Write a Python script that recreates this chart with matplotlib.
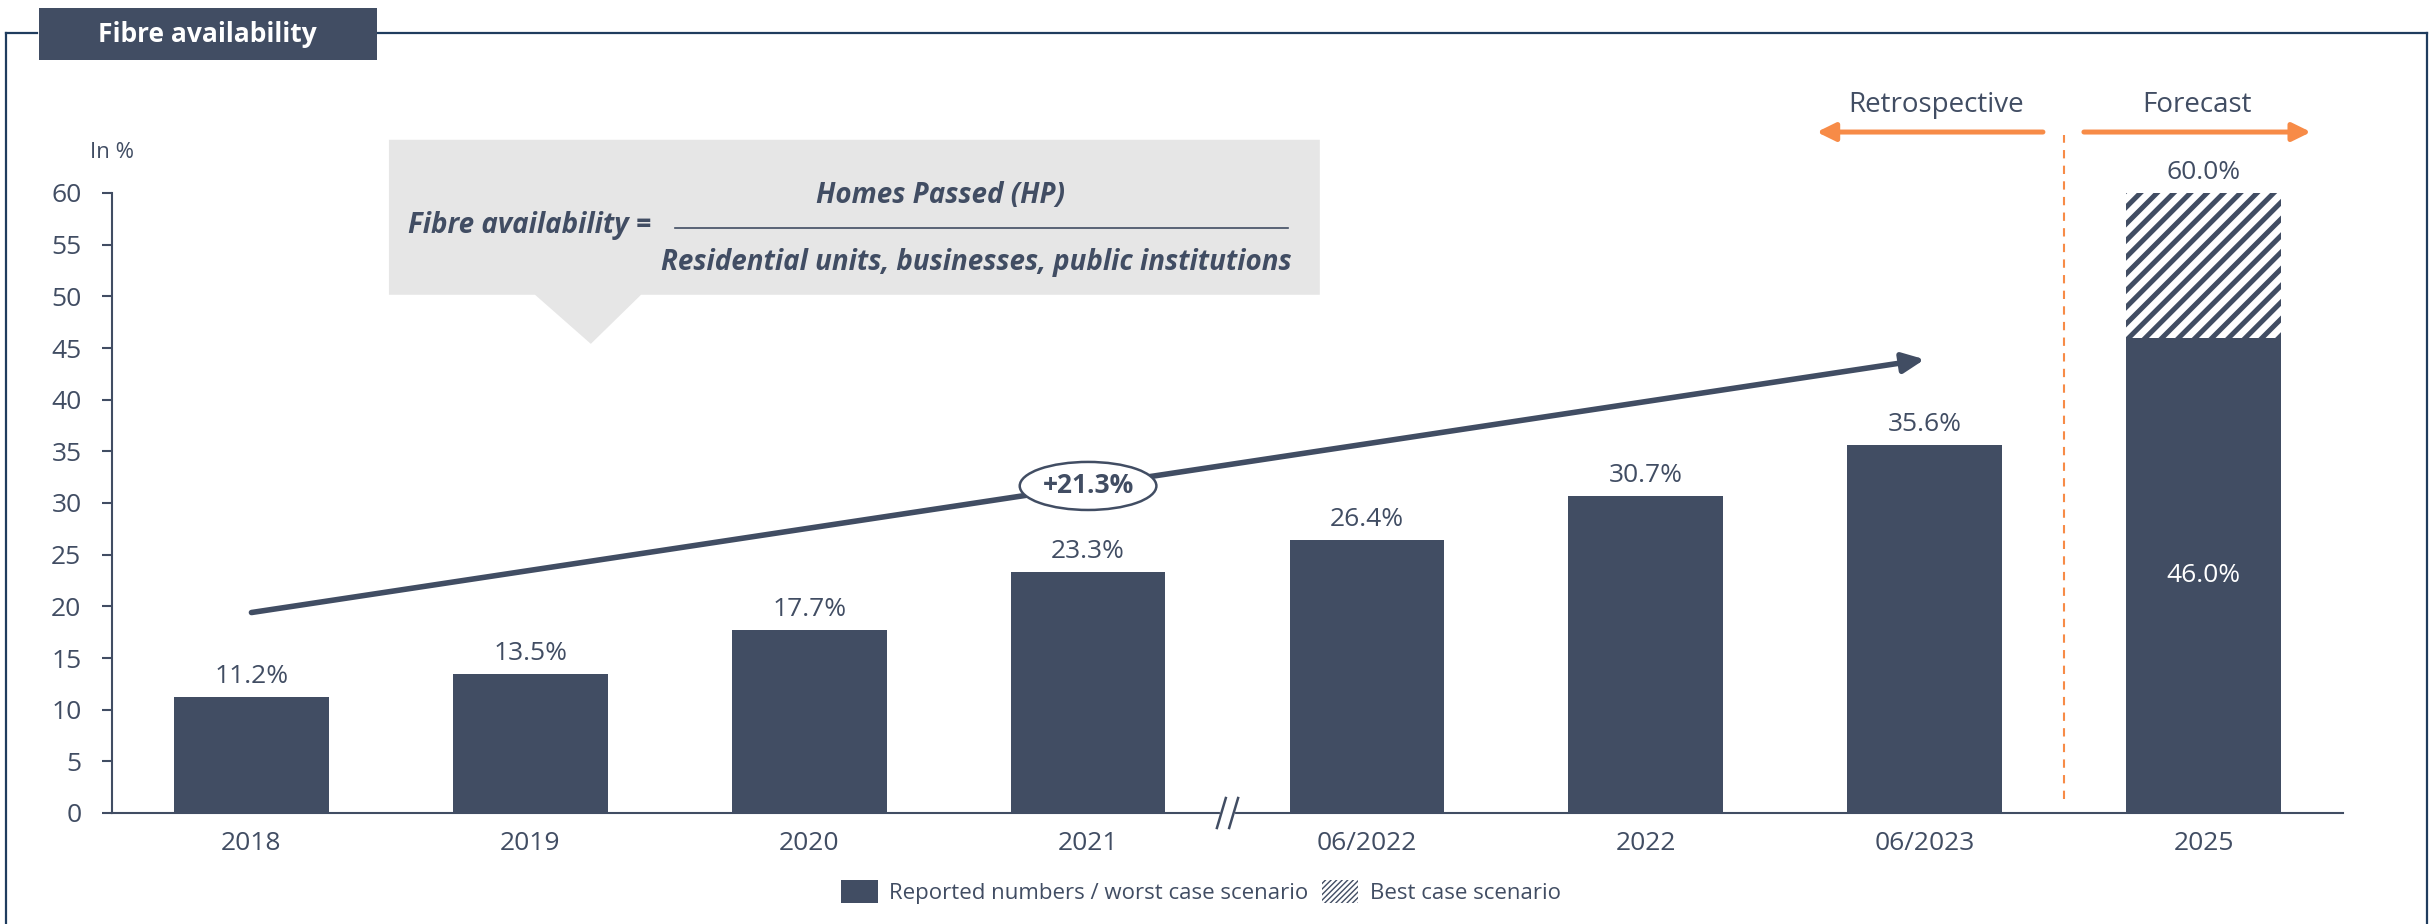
import numpy as np
import matplotlib
matplotlib.use("Agg")
import matplotlib.pyplot as plt
from matplotlib.patches import Rectangle, Polygon, Ellipse, Patch
from matplotlib.lines import Line2D

# data
categories = ["2018", "2019", "2020", "2021", "06/2022", "2022", "06/2023", "2025"]
reported = [11.2, 13.5, 17.7, 23.3, 26.4, 30.7, 35.6, 46.0]
best_case = [np.nan, np.nan, np.nan, np.nan, np.nan, np.nan, np.nan, 60.0]
growth_label = "+21.3%"
trend_start = (0.0, 19.4)
trend_end = (6.0, 43.9)

NAVY = "#414d63"
FRAME = "#1f3c5e"
ORANGE = "#f78b47"
GREY = "#e6e6e6"

plt.rcParams["font.family"] = ["Open Sans", "DejaVu Sans"]
plt.rcParams["hatch.linewidth"] = 3.6
formula_size = 20

W, H = 2433, 924
fig = plt.figure(figsize=(W / 100, H / 100), dpi=100)


def fx(px):
    return px / W


def fy(py):
    return 1 - py / H


ax = fig.add_axes([fx(112), fy(813), fx(2343) - fx(112), fy(193) - fy(813)])

x = np.arange(len(categories))
width = 0.555
ax.bar(x, reported, width, color=NAVY, zorder=2)
best = np.array(best_case)
reported_arr = np.array(reported)
ax.bar(x, best - reported_arr, width, bottom=reported_arr, facecolor="white",
       edgecolor=NAVY, linewidth=0, hatch="//", zorder=2)

# value labels
for i, v in enumerate(reported):
    if np.isnan(best[i]):
        ax.annotate(f"{v:.1f}%", (i, v), xytext=(0, 10), textcoords="offset points",
                    ha="center", va="baseline", fontsize=19, color=NAVY)
    else:
        ax.text(i, v / 2, f"{v:.1f}%", ha="center", va="center", fontsize=19, color="white")
        ax.annotate(f"{best[i]:.1f}%", (i, best[i]), xytext=(0, 10), textcoords="offset points",
                    ha="center", va="baseline", fontsize=19, color=NAVY)

ax.set_xlim(-0.5, len(categories) - 0.5)
ax.set_ylim(0, 60)
ax.set_yticks(np.arange(0, 61, 5))
ax.set_xticks(x)
ax.set_xticklabels(categories)
ax.tick_params(axis="y", direction="out", length=7, width=1.5, color=NAVY,
               labelsize=19, labelcolor=NAVY, pad=15)
ax.tick_params(axis="x", length=0, labelsize=19, labelcolor=NAVY, pad=13)
for s in ["top", "right"]:
    ax.spines[s].set_visible(False)
for s in ["left", "bottom"]:
    ax.spines[s].set_color(NAVY)
    ax.spines[s].set_linewidth(1.5)

# axis break between 2021 and 06/2022
xb = 3.5
ax.plot([xb - 0.02, xb + 0.02], [0, 0], color="white", lw=3, clip_on=False, zorder=5)
for dx in (-0.022, 0.022):
    ax.plot([xb + dx - 0.016, xb + dx + 0.016], [-1.45, 1.45], color=NAVY, lw=1.8,
            clip_on=False, zorder=6)

# trend arrow with growth ellipse
ax.annotate("", xy=trend_end, xytext=trend_start,
            arrowprops=dict(arrowstyle="-|>,head_length=0.65,head_width=0.3", color=NAVY,
                            lw=4, shrinkA=0, shrinkB=0, mutation_scale=20), zorder=3)
mx = (trend_start[0] + trend_end[0]) / 2
my = (trend_start[1] + trend_end[1]) / 2
ax.add_patch(Ellipse((mx, my), 0.49, 4.65, facecolor="white", edgecolor=NAVY, lw=1.8, zorder=4))
ax.text(mx, my, growth_label, ha="center", va="center", fontsize=19, fontweight="bold",
        color=NAVY, zorder=5)

# callout with formula
callout = Polygon([(0.493, 65.15), (3.831, 65.15), (3.831, 50.15), (1.397, 50.15),
                   (1.217, 45.4), (1.017, 50.15), (0.493, 50.15)],
                  closed=True, facecolor=GREY, edgecolor="none", clip_on=False, zorder=1)
ax.add_patch(callout)
ftxt = dict(fontsize=formula_size, fontweight="bold", style="italic", color=NAVY)
ax.text(0.561, 56.9, "Fibre availability =", ha="left", va="center", **ftxt)
ax.plot([1.519, 3.717], [56.6, 56.6], color=NAVY, lw=1.2, clip_on=False)
ax.text(2.47, 59.8, "Homes Passed (HP)", ha="center", va="center", **ftxt)
ax.text(2.60, 53.3, "Residential units, businesses, public institutions", ha="center",
        va="center", **ftxt)

# retrospective / forecast markers
arrow_kw = dict(arrowstyle="-|>,head_length=0.55,head_width=0.27", color=ORANGE, lw=3.6,
                shrinkA=0, shrinkB=0, mutation_scale=20)
ax.annotate("", xy=(5.613, 65.9), xytext=(6.424, 65.9), arrowprops=arrow_kw,
            annotation_clip=False)
ax.annotate("", xy=(7.385, 65.9), xytext=(6.571, 65.9), arrowprops=arrow_kw,
            annotation_clip=False)
ax.plot([6.5, 6.5], [1.35, 65.6], color=ORANGE, lw=1.5, ls=(0, (4, 3.5)), clip_on=False)
ax.text(6.04, 68.5, "Retrospective", ha="center", va="center", fontsize=20, color=NAVY)
ax.text(6.976, 68.5, "Forecast", ha="center", va="center", fontsize=20, color=NAVY)

# unit label
fig.text(fx(90), fy(153), "In %", ha="left", va="center", fontsize=16, color=NAVY)

# frame and title tab
for xs, ys in [((6, 6), (33, H)), ((6, 37), (33, 33)), ((378, 2427), (33, 33)),
               ((2427, 2427), (33, H))]:
    fig.add_artist(Line2D([fx(v) for v in xs], [fy(v) for v in ys], color=FRAME, lw=1.6))
fig.add_artist(Rectangle((fx(39), fy(60)), fx(377) - fx(39), fy(8) - fy(60),
                         transform=fig.transFigure, facecolor=NAVY, edgecolor="none"))
fig.text(fx(207), fy(34), "Fibre availability", ha="center", va="center", fontsize=19,
         fontweight="bold", color="white")

# legend
with plt.rc_context({"hatch.linewidth": 1.0}):
    handles = [Patch(facecolor=NAVY, edgecolor="none"),
               Patch(facecolor="white", edgecolor=NAVY, linewidth=0, hatch="//////")]
    fig.legend(handles, ["Reported numbers / worst case scenario", "Best case scenario"],
               loc="center", bbox_to_anchor=(fx(1201), fy(892)), ncol=2, frameon=False,
               fontsize=16, handlelength=1.65, handleheight=1.2, handletextpad=0.5,
               columnspacing=0.6, borderpad=0, labelcolor=NAVY)

fig.savefig("out.png", dpi=100)
